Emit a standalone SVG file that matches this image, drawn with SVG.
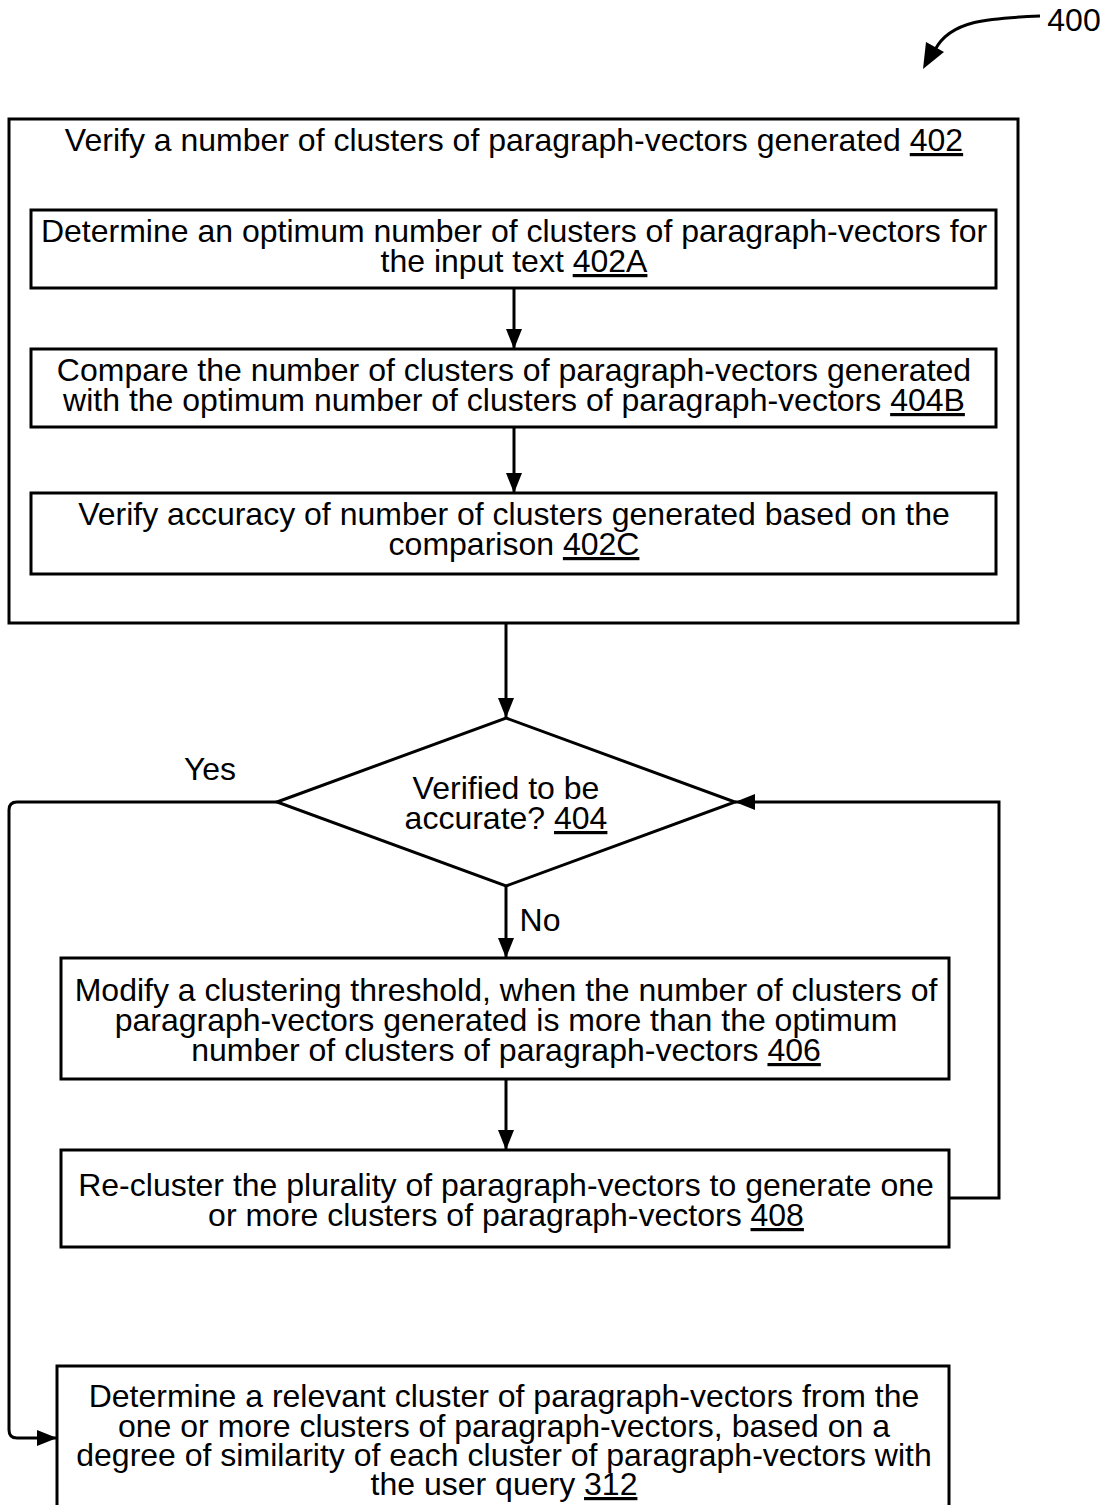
<svg xmlns="http://www.w3.org/2000/svg" width="1110" height="1505" viewBox="0 0 1110 1505">
<defs>
<style>
.b{fill:#fff;stroke:#000;stroke-width:3}
.t{font-family:"Liberation Sans",Arial,sans-serif;font-size:32px;fill:#000;text-anchor:middle}
.u{text-decoration:underline}
.c{fill:none;stroke:#000;stroke-width:3}
</style>
<marker id="a" viewBox="0 0 20 16" refX="20" refY="8" markerWidth="20" markerHeight="16" orient="auto" markerUnits="userSpaceOnUse">
<path d="M0,0 L20,8 L0,16 z" fill="#000"/>
</marker>
</defs>
<rect width="1110" height="1505" fill="#fff"/>
<g id="label400">
<text x="1074" y="31" class="t">400</text>
<path d="M1040,16 C990,18 950,20 935,50" class="c" stroke-width="4"/>
<path d="M923,69 L926,42 L944,52 z" fill="#000"/>
</g>
<g id="n402">
<rect x="9" y="119" width="1009" height="504" class="b"/>
<text x="514" y="151" class="t">Verify a number of clusters of paragraph-vectors generated <tspan class="u">402</tspan></text>
</g>
<g id="n402A">
<rect x="31" y="210" width="965" height="78" class="b"/>
<text x="514" y="242" class="t">Determine an optimum number of clusters of paragraph-vectors for</text>
<text x="514" y="272" class="t">the input text <tspan class="u">402A</tspan></text>
</g>
<g id="n404B">
<rect x="31" y="349" width="965" height="78" class="b"/>
<text x="514" y="381" class="t">Compare the number of clusters of paragraph-vectors generated</text>
<text x="514" y="411" class="t">with the optimum number of clusters of paragraph-vectors <tspan class="u">404B</tspan></text>
</g>
<g id="n402C">
<rect x="31" y="493" width="965" height="81" class="b"/>
<text x="514" y="525" class="t">Verify accuracy of number of clusters generated based on the</text>
<text x="514" y="555" class="t">comparison <tspan class="u">402C</tspan></text>
</g>
<g id="n404">
<polygon points="277,802 506,718 735,802 506,886" class="b"/>
<text x="506" y="799" class="t">Verified to be</text>
<text x="506" y="829" class="t">accurate? <tspan class="u">404</tspan></text>
</g>
<g id="n406">
<rect x="61" y="958" width="888" height="121" class="b"/>
<text x="506" y="1001" class="t">Modify a clustering threshold, when the number of clusters of</text>
<text x="506" y="1031" class="t">paragraph-vectors generated is more than the optimum</text>
<text x="506" y="1061" class="t">number of clusters of paragraph-vectors <tspan class="u">406</tspan></text>
</g>
<g id="n408">
<rect x="61" y="1150" width="888" height="97" class="b"/>
<text x="506" y="1196" class="t">Re-cluster the plurality of paragraph-vectors to generate one</text>
<text x="506" y="1226" class="t">or more clusters of paragraph-vectors <tspan class="u">408</tspan></text>
</g>
<g id="n312">
<rect x="57" y="1366" width="892" height="160" class="b"/>
<text x="504" y="1407" class="t">Determine a relevant cluster of paragraph-vectors from the</text>
<text x="504" y="1437" class="t">one or more clusters of paragraph-vectors, based on a</text>
<text x="504" y="1466" class="t">degree of similarity of each cluster of paragraph-vectors with</text>
<text x="504" y="1495" class="t">the user query <tspan class="u">312</tspan></text>
</g>
<g id="connectors">
<line x1="514" y1="288" x2="514" y2="349" class="c" marker-end="url(#a)"/>
<line x1="514" y1="427" x2="514" y2="493" class="c" marker-end="url(#a)"/>
<line x1="506" y1="623" x2="506" y2="718" class="c" marker-end="url(#a)"/>
<line x1="506" y1="886" x2="506" y2="958" class="c" marker-end="url(#a)"/>
<line x1="506" y1="1079" x2="506" y2="1150" class="c" marker-end="url(#a)"/>
<path d="M949,1198 H999 V802 H735" class="c" marker-end="url(#a)"/>
<path d="M277,802 H17 Q9,802 9,810 V1430 Q9,1438 17,1438 H57" class="c" marker-end="url(#a)"/>
<text x="210" y="780" class="t">Yes</text>
<text x="540" y="931" class="t">No</text>
</g>
</svg>
